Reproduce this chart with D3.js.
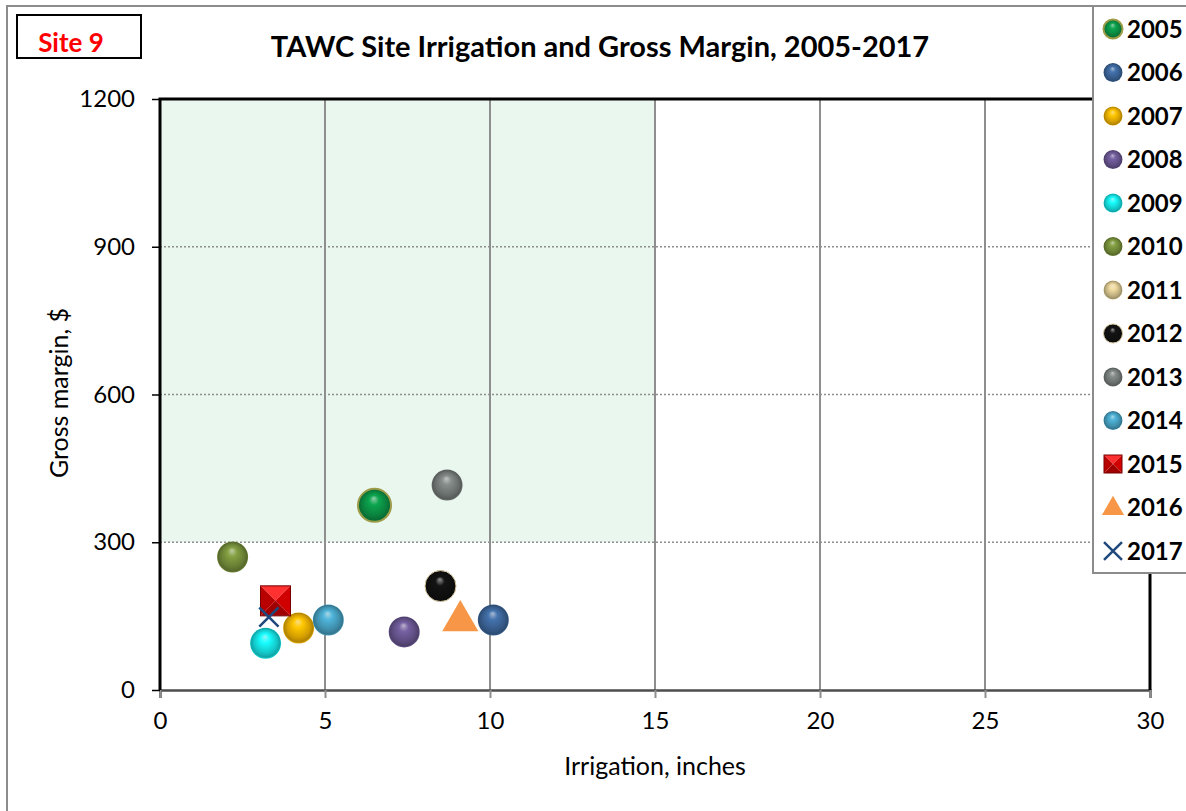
<!DOCTYPE html>
<html>
<head>
<meta charset="utf-8">
<script src="https://cdn.jsdelivr.net/npm/d3@7"></script>
<style>
  body { margin: 0; background: #fff; }
  svg { font-family: Lato, "Open Sans", sans-serif; }
</style>
</head>
<body>
<div id="chart"></div>
<script>
// values
var years      = ["2005","2006","2007","2008","2009","2010","2011","2012","2013","2014","2015","2016","2017"];
var irrigation = [6.5, 10.1, 4.2, 7.4, 3.2, 2.2, null, 8.5, 8.7, 5.1, 3.5, 9.1, 3.3];
var margin$    = [375, 142, 126, 118, 95, 270, null, 211, 416, 142, 181, 144, 148];
var markers    = ["ball","ball","ball","ball","ball","ball","ball","ball","ball","ball","square","triangle","x"];
var colors     = ["#0b9446","#3d679c","#f2b400","#6a5792","#16e4e6","#77903b","#d9c690","#111111","#787f7c","#47a3c4","#c00000","#f79646","#1f497d"];
var xTicks = [0, 5, 10, 15, 20, 25, 30];
var yTicks = [0, 300, 600, 900, 1200];
var shade = {x0: 0, x1: 15, y0: 300, y1: 1200};

var W = 1186, H = 811;
var FONT = "Lato, 'Open Sans', sans-serif";
var margin = {top: 99, right: 36, bottom: 121, left: 160},
    width = W - margin.left - margin.right,
    height = H - margin.top - margin.bottom;

var svg = d3.select("#chart").append("svg")
    .attr("width", W)
    .attr("height", H);

var defs = svg.append("defs");

// one radial gradient per colour, looks like the excel balls
colors.forEach(function(c, i) {
  var base = d3.color(c);
  var g = defs.append("radialGradient")
      .attr("id", "ball" + i)
      .attr("cx", "50%").attr("cy", "50%").attr("r", "50%")
      .attr("fx", "48%").attr("fy", "28%");
  g.append("stop").attr("offset", "0%").attr("stop-color", d3.interpolateRgb(c, "#fff")(0.55));
  g.append("stop").attr("offset", "30%").attr("stop-color", base.brighter(0.3));
  g.append("stop").attr("offset", "75%").attr("stop-color", base.darker(0.4));
  g.append("stop").attr("offset", "93%").attr("stop-color", base.darker(0.9));
  g.append("stop").attr("offset", "100%").attr("stop-color", base.darker(0.2));
});

// outer chart frame
svg.append("rect")
    .attr("x", 7).attr("y", 6)
    .attr("width", W + 20).attr("height", H + 20)
    .attr("fill", "none")
    .attr("stroke", "#8c8c8c")
    .attr("stroke-width", 2);

// site label box
svg.append("rect")
    .attr("x", 17).attr("y", 15)
    .attr("width", 124).attr("height", 43)
    .attr("fill", "#fff")
    .attr("stroke", "#000")
    .attr("stroke-width", 2);
svg.append("text")
    .attr("x", 71).attr("y", 52)
    .attr("text-anchor", "middle")
    .attr("fill", "#ff0000")
    .attr("font-weight", "bold")
    .attr("font-size", 26)
    .text("Site 9");

svg.append("text")
    .attr("x", 600).attr("y", 57)
    .attr("text-anchor", "middle")
    .attr("font-weight", "bold")
    .attr("font-size", 29)
    .text("TAWC Site Irrigation and Gross Margin, 2005-2017");

var g = svg.append("g")
    .attr("transform", "translate(" + margin.left + "," + margin.top + ")");

var x = d3.scaleLinear().domain([0, 30]).range([0, width]);
var y = d3.scaleLinear().domain([0, 1200]).range([height, 0]);

// green target zone
g.append("rect")
    .attr("x", x(shade.x0))
    .attr("y", y(shade.y1))
    .attr("width", x(shade.x1) - x(shade.x0))
    .attr("height", y(shade.y0) - y(shade.y1))
    .attr("fill", "#eaf7ee");

// gridlines
g.append("g").selectAll("line")
    .data(xTicks.slice(1, -1))
    .enter().append("line")
      .attr("x1", function(d) { return x(d); })
      .attr("x2", function(d) { return x(d); })
      .attr("y1", 0).attr("y2", height)
      .attr("stroke", "#8e8e8e")
      .attr("stroke-width", 2);

g.append("g").selectAll("line")
    .data(yTicks.slice(1, -1))
    .enter().append("line")
      .attr("x1", 0).attr("x2", width)
      .attr("y1", function(d) { return y(d); })
      .attr("y2", function(d) { return y(d); })
      .attr("stroke", "#8e8e8e")
      .attr("stroke-width", 1.5)
      .attr("stroke-dasharray", "2,2");

// axes
var xAxis = g.append("g")
    .attr("transform", "translate(0," + height + ")")
    .call(d3.axisBottom(x).tickValues(xTicks).tickFormat(d3.format("d")).tickSize(8).tickPadding(14))
    .attr("font-family", FONT)
    .attr("font-size", 24);
xAxis.select(".domain").attr("stroke", "#4d4d4d").attr("stroke-width", 2.5);
xAxis.selectAll(".tick line").attr("stroke", "#8e8e8e").attr("stroke-width", 2);
xAxis.selectAll("text").attr("fill", "#000");

var yAxis = g.append("g")
    .call(d3.axisLeft(y).tickValues(yTicks).tickFormat(d3.format("d")).tickSize(8).tickPadding(17))
    .attr("font-family", FONT)
    .attr("font-size", 24);
yAxis.select(".domain").remove();
yAxis.selectAll(".tick line").attr("stroke", "#000").attr("stroke-width", 1.5);
yAxis.selectAll("text").attr("fill", "#000");

// heavy frame on left, top, right
g.append("path")
    .attr("d", "M0," + height + "V0H" + width + "V" + height)
    .attr("fill", "none")
    .attr("stroke", "#000")
    .attr("stroke-width", 3);

svg.append("text")
    .attr("x", 655).attr("y", 775)
    .attr("text-anchor", "middle")
    .attr("font-size", 25)
    .text("Irrigation, inches");

svg.append("text")
    .attr("transform", "translate(68,393) rotate(-90)")
    .attr("text-anchor", "middle")
    .attr("font-size", 25)
    .text("Gross margin, $");

function drawMarker(sel, i, r) {
  var type = markers[i], c = colors[i];
  if (type === "ball") {
    sel.append("circle")
        .attr("r", r)
        .attr("fill", "url(#ball" + i + ")")
        .attr("stroke", i === 0 ? "#9c9c48" : (i === 7 ? "#d8c8a0" : "none"))
        .attr("stroke-width", i === 0 ? 2 : 1);
  } else if (type === "square") {
    var s = r;
    var faces = [
      ["M" + (-s) + "," + (-s) + "L" + s + "," + (-s) + "L0,0Z", "#ff3030"],
      ["M" + s + "," + (-s) + "L" + s + "," + s + "L0,0Z", "#d00000"],
      ["M" + s + "," + s + "L" + (-s) + "," + s + "L0,0Z", "#a00000"],
      ["M" + (-s) + "," + s + "L" + (-s) + "," + (-s) + "L0,0Z", "#b80000"]
    ];
    faces.forEach(function(f) {
      sel.append("path").attr("d", f[0]).attr("fill", f[1]);
    });
    sel.append("rect")
        .attr("x", -s).attr("y", -s).attr("width", 2 * s).attr("height", 2 * s)
        .attr("fill", "none").attr("stroke", "#7a0000").attr("stroke-width", 1);
  } else if (type === "triangle") {
    sel.append("path")
        .attr("d", d3.symbol().type(d3.symbolTriangle).size(r * r * 1.75)())
        .attr("transform", "translate(0," + (r * 0.1) + ")")
        .attr("fill", c);
  } else {
    var k = r * 0.62;
    sel.append("path")
        .attr("d", "M" + (-k) + "," + (-k) + "L" + k + "," + k + "M" + k + "," + (-k) + "L" + (-k) + "," + k)
        .attr("stroke", c)
        .attr("stroke-width", 2.5)
        .attr("fill", "none");
  }
}

// points, in series order so later years sit on top
var pts = years.map(function(yr, i) {
  return {year: yr, i: i, x: irrigation[i], y: margin$[i]};
}).filter(function(d) { return d.x != null; });

g.append("g").selectAll("g")
    .data(pts)
    .enter().append("g")
      .attr("transform", function(d) { return "translate(" + x(d.x) + "," + y(d.y) + ")"; })
      .each(function(d) {
        var r = d.i === 0 ? 16.5 : (markers[d.i] === "square" ? 15 : (markers[d.i] === "triangle" ? 18 : 15.5));
        drawMarker(d3.select(this), d.i, r);
      });

// legend
var legend = svg.append("g");
legend.append("rect")
    .attr("x", 1093).attr("y", 6)
    .attr("width", 120).attr("height", 567)
    .attr("fill", "#fff")
    .attr("stroke", "#8c8c8c")
    .attr("stroke-width", 2);

var item = legend.selectAll("g.item")
    .data(years)
    .enter().append("g")
      .attr("class", "item")
      .attr("transform", function(d, i) { return "translate(1113," + (29 + i * 43.5) + ")"; });

item.each(function(d, i) {
  var r = markers[i] === "triangle" ? 11 : (markers[i] === "x" ? 14.5 : 9.5);
  if (markers[i] === "square") r = 9;
  drawMarker(d3.select(this), i, r);
});

item.append("text")
    .attr("x", 14)
    .attr("dy", "0.36em")
    .attr("font-weight", "bold")
    .attr("font-size", 24)
    .text(function(d) { return d; });
</script>
</body>
</html>
